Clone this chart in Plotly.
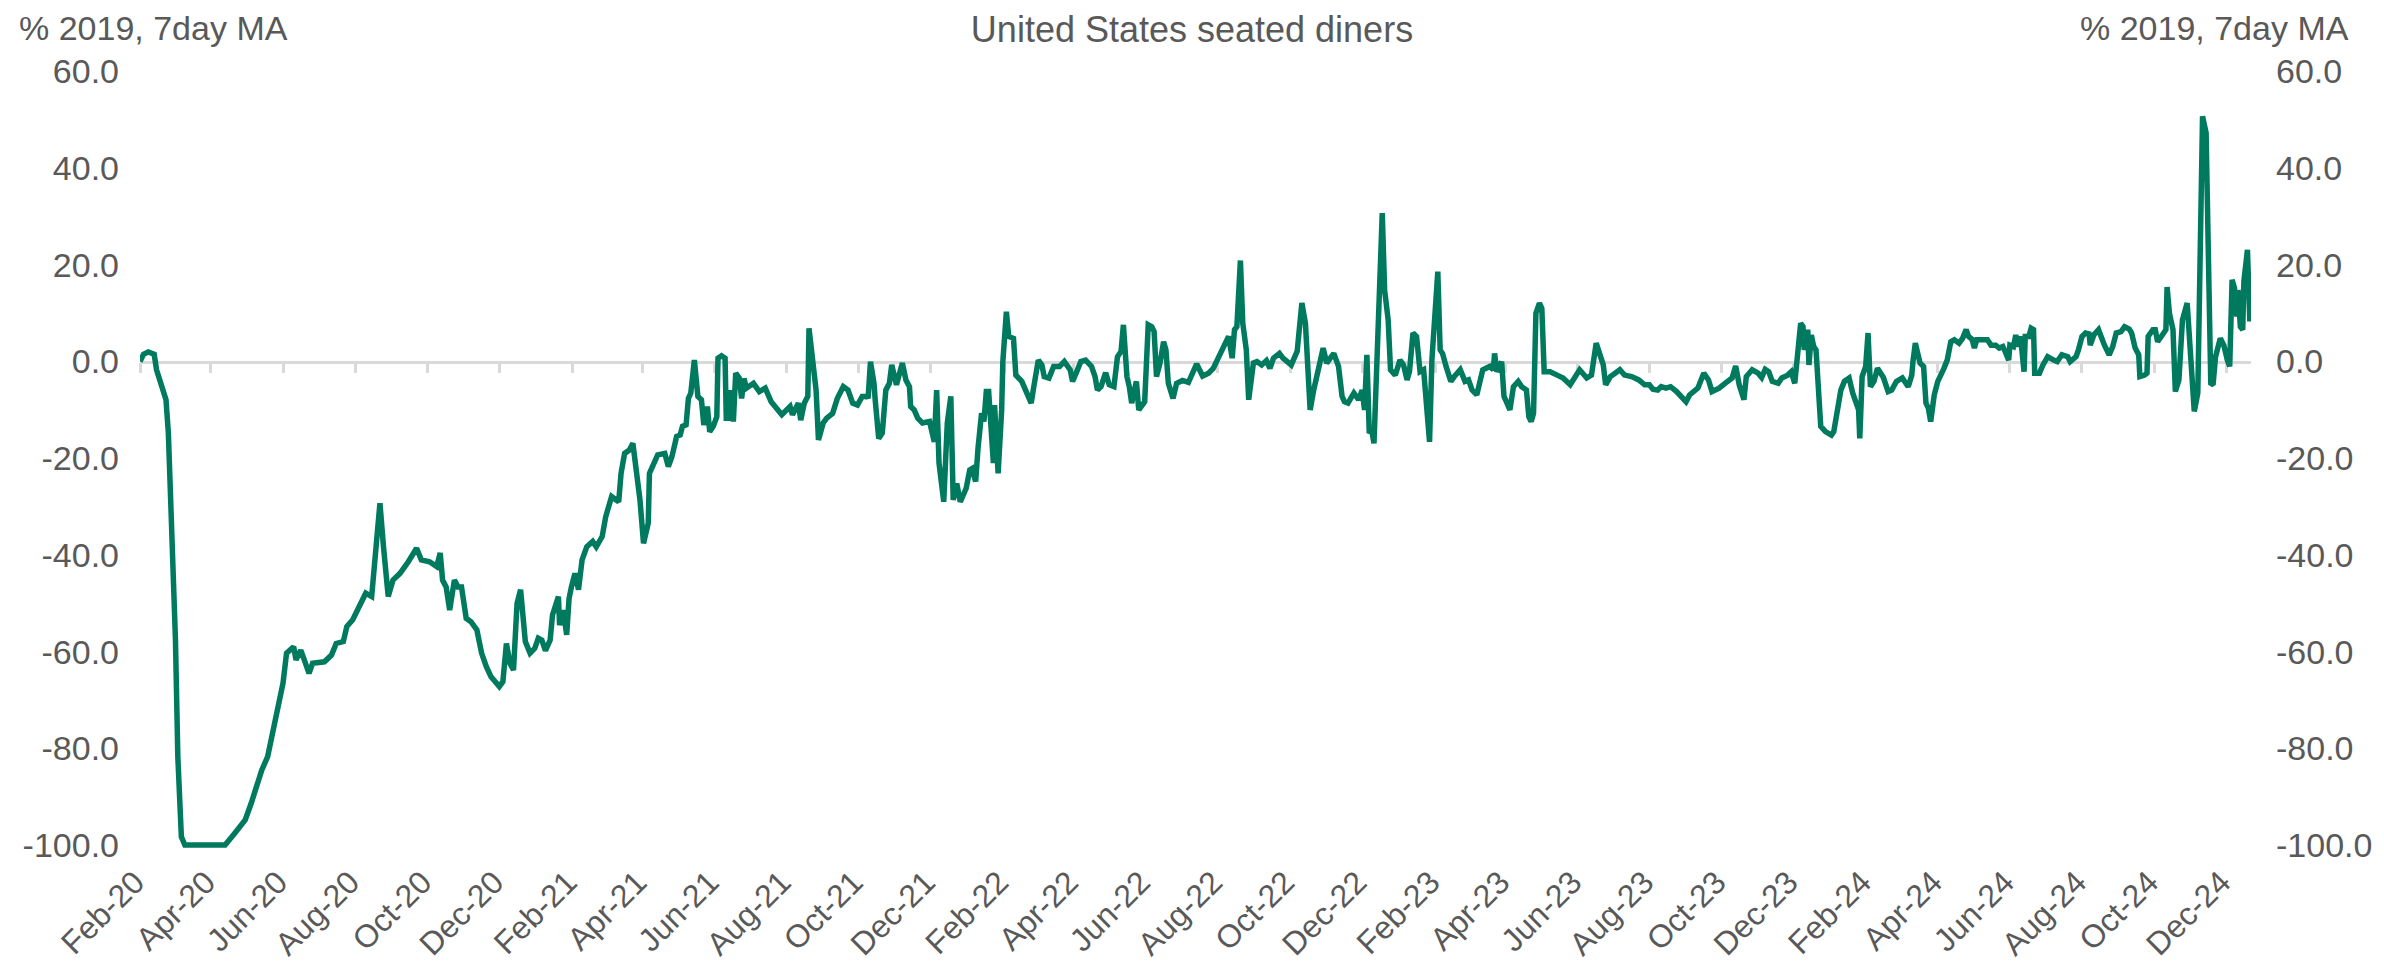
import datetime as dt
import plotly.graph_objects as go

# ---------------- data ----------------
start_date = "2020-02-18"
plot_span_days = 1786

day_offsets = [
    0, 3, 7, 10, 12, 14, 18, 22, 24, 27, 30, 32, 35, 38, 72, 80, 89, 94, 103, 108,
    114, 117, 121, 124, 130, 132, 136, 139, 143, 146, 156, 162, 166, 172, 175, 180, 187, 191, 196, 199,
    203, 206, 210, 214, 220, 227, 234, 238, 245, 251, 254, 256, 259, 262, 266, 269, 272, 276, 280, 285,
    289, 293, 297, 304, 307, 310, 313, 316, 319, 322, 326, 330, 334, 337, 340, 343, 347, 349, 354, 355,
    358, 361, 363, 365, 368, 371, 374, 378, 383, 386, 391, 394, 399, 405, 407, 410, 414, 417, 420, 423,
    426, 430, 431, 435, 438, 444, 447, 450, 454, 457, 459, 462, 464, 466, 469, 472, 475, 477, 480, 482,
    485, 488, 489, 492, 495, 496, 499, 500, 502, 504, 507, 509, 511, 513, 519, 524, 529, 534, 538, 543,
    550, 552, 557, 559, 562, 565, 566, 570, 572, 574, 578, 581, 586, 590, 595, 599, 603, 607, 611, 615,
    616, 618, 621, 622, 625, 628, 631, 634, 636, 640, 645, 648, 651, 652, 655, 658, 662, 668, 671, 672,
    674, 676, 680, 683, 686, 688, 691, 694, 699, 702, 704, 707, 709, 712, 714, 716, 718, 720, 722, 723,
    726, 729, 730, 733, 735, 739, 741, 746, 750, 754, 756, 760, 763, 765, 769, 773, 778, 782, 787, 789,
    792, 796, 800, 805, 808, 810, 813, 817, 820, 824, 827, 830, 832, 835, 837, 839, 843, 845, 850, 853,
    856, 858, 860, 863, 866, 868, 870, 874, 877, 882, 887, 890, 894, 899, 904, 908, 914, 917, 921, 924,
    926, 928, 931, 933, 936, 938, 942, 945, 949, 953, 956, 959, 964, 967, 974, 979, 983, 986, 990, 993,
    997, 1001, 1004, 1007, 1010, 1014, 1017, 1019, 1022, 1027, 1031, 1034, 1036, 1038, 1040, 1042, 1044, 1051, 1053, 1056,
    1058, 1062, 1066, 1069, 1072, 1074, 1077, 1080, 1083, 1086, 1088, 1091, 1093, 1095, 1098, 1100, 1102, 1105, 1109, 1112,
    1117, 1121, 1124, 1127, 1131, 1134, 1136, 1142, 1145, 1146, 1148, 1152, 1154, 1156, 1159, 1162, 1166, 1169, 1173, 1175,
    1177, 1179, 1181, 1184, 1186, 1188, 1193, 1199, 1204, 1210, 1214, 1218, 1224, 1228, 1232, 1235, 1238, 1240, 1244, 1248,
    1252, 1256, 1262, 1268, 1273, 1277, 1280, 1284, 1287, 1291, 1295, 1300, 1304, 1308, 1311, 1315, 1318, 1323, 1327, 1330,
    1336, 1341, 1347, 1350, 1353, 1357, 1359, 1364, 1369, 1372, 1375, 1378, 1381, 1386, 1389, 1394, 1397, 1400, 1403, 1405,
    1407, 1408, 1411, 1412, 1414, 1416, 1418, 1420, 1422, 1426, 1431, 1433, 1436, 1439, 1442, 1446, 1449, 1452, 1454, 1455,
    1457, 1460, 1462, 1464, 1467, 1470, 1475, 1479, 1482, 1486, 1491, 1496, 1499, 1500, 1502, 1506, 1509, 1511, 1513, 1515,
    1518, 1521, 1524, 1526, 1529, 1532, 1535, 1539, 1542, 1545, 1547, 1550, 1552, 1554, 1560, 1563, 1566, 1570, 1573, 1576,
    1578, 1581, 1582, 1585, 1587, 1589, 1591, 1594, 1595, 1598, 1600, 1602, 1603, 1607, 1610, 1614, 1619, 1622, 1626, 1631,
    1633, 1638, 1640, 1643, 1646, 1649, 1650, 1653, 1657, 1660, 1662, 1666, 1669, 1672, 1676, 1679, 1683, 1685, 1688, 1691,
    1692, 1696, 1698, 1699, 1703, 1705, 1707, 1711, 1714, 1715, 1717, 1720, 1722, 1725, 1728, 1732, 1735, 1738, 1741, 1745,
    1748, 1750, 1752, 1754, 1756, 1760, 1763, 1766, 1768, 1770, 1772, 1774, 1775, 1777, 1779, 1780, 1783, 1785,
]

values = [
    0.0, 1.5, 2.0, 1.8, 1.5, -1.7, -5.2, -7.9, -14.8, -36.9, -57.6, -81.7, -98.3, -100.0, -100.0, -97.6, -94.8, -91.4, -84.5, -81.7,
    -74.8, -71.0, -66.5, -60.3, -59.0, -61.7, -59.7, -61.7, -64.5, -62.4, -62.1, -60.7, -58.3, -57.9, -54.8, -53.4, -49.7, -47.9, -48.6, -41.0,
    -29.3, -38.3, -48.6, -45.2, -43.8, -41.4, -38.6, -41.0, -41.4, -42.4, -39.6, -45.2, -46.6, -51.4, -45.2, -46.6, -46.6, -53.1, -53.8, -55.5,
    -60.3, -63.1, -65.2, -67.2, -66.2, -58.3, -62.4, -63.8, -50.0, -47.2, -57.9, -60.3, -59.3, -57.2, -57.6, -59.8, -57.6, -52.4, -48.6, -54.5,
    -51.4, -56.5, -49.0, -46.6, -43.8, -47.2, -41.0, -38.3, -37.2, -38.3, -36.2, -32.1, -27.9, -29.0, -23.1, -19.0, -18.3, -16.9, -22.4, -28.6,
    -37.6, -33.4, -23.1, -21.0, -19.3, -19.0, -21.7, -19.7, -15.5, -15.2, -13.4, -13.1, -7.6, -6.5, 0.3, -7.2, -7.9, -13.1, -9.3, -14.5,
    -13.4, -11.4, 0.7, 1.2, 0.7, -11.7, -11.7, -5.9, -12.4, -2.4, -3.4, -7.6, -3.5, -5.5, -4.5, -6.2, -5.5, -8.3, -9.6, -11.0,
    -9.3, -11.0, -8.6, -12.1, -8.6, -7.2, 6.9, -3.1, -5.9, -16.2, -12.7, -11.7, -10.7, -7.6, -5.2, -5.9, -8.6, -9.0, -7.2, -7.2,
    -7.6, 0.0, -4.5, -7.9, -15.9, -14.8, -5.9, -4.5, -0.7, -4.8, -0.3, -3.8, -5.2, -9.3, -10.0, -11.7, -12.7, -12.4, -16.2, -16.6,
    -5.9, -21.0, -29.0, -12.7, -7.2, -28.6, -25.2, -29.0, -26.2, -22.4, -22.1, -24.8, -17.9, -10.7, -12.4, -6.2, -6.2, -12.4, -21.0, -9.0,
    -23.1, -10.0, 0.0, 10.3, 5.2, 4.8, -2.8, -4.1, -6.2, -8.6, -5.5, 0.3, -0.7, -3.1, -3.4, -1.0, -1.0, 0.0, -1.7, -4.1,
    -2.4, 0.0, 0.3, -1.0, -3.1, -5.9, -5.2, -2.3, -4.8, -5.2, 1.0, 2.1, 7.6, -3.1, -5.2, -8.6, -4.1, -10.0, -8.3, 7.6,
    7.2, 6.2, -3.1, -0.3, 4.1, 2.4, -4.5, -7.6, -4.5, -3.9, -4.3, -2.8, -0.5, -3.0, -2.4, -1.4, 1.7, 2.8, 5.2, 0.7,
    6.6, 7.2, 20.9, 7.9, 2.4, -7.9, -0.3, 0.0, -0.7, 0.2, -1.4, 0.7, 1.7, 0.7, -0.7, 2.1, 12.1, 7.9, -10.0, -5.9,
    -1.4, 2.8, -0.3, 0.7, 1.7, -1.0, -7.2, -8.3, -8.6, -6.5, -7.9, -5.9, -10.0, 1.4, -14.8, -14.1, -16.9, 30.7, 14.8, 8.6,
    -1.7, -2.8, 0.3, -0.7, -3.8, -2.1, 5.9, 5.2, -2.1, -1.7, -7.2, -16.6, 0.3, 6.6, 18.6, 2.4, 1.7, -1.0, -4.1, -3.1,
    -1.7, -4.1, -3.8, -5.9, -6.9, -3.8, -1.7, -1.0, -1.7, 1.7, -2.1, 0.0, -7.2, -8.3, -10.0, -5.2, -4.1, -5.2, -5.9, -11.4,
    -12.4, -10.7, 10.0, 12.1, 11.0, -2.1, -2.1, -2.8, -3.4, -4.8, -3.4, -1.7, -3.4, -2.8, 3.8, 1.7, -0.7, -4.8, -3.1, -2.4,
    -1.7, -2.8, -3.1, -3.8, -4.8, -4.8, -5.7, -5.9, -5.2, -5.5, -5.2, -6.2, -7.2, -8.3, -6.9, -6.2, -5.5, -2.4, -3.8, -6.2,
    -5.5, -4.5, -3.4, -0.9, -4.8, -7.9, -3.1, -1.7, -2.4, -3.3, -1.6, -2.1, -4.1, -4.5, -3.4, -2.8, -2.1, -4.5, 1.7, 7.9,
    7.2, 2.4, 6.6, -0.7, 5.5, 3.1, 2.4, -7.2, -13.4, -14.5, -15.2, -14.5, -9.3, -5.9, -4.1, -3.4, -6.5, -8.3, -10.0, -15.9,
    -3.1, -1.0, 5.9, -5.2, -4.1, -1.4, -3.3, -6.2, -5.9, -4.1, -3.4, -5.2, -2.8, 0.0, 3.8, -0.3, -1.0, -8.6, -9.6, -12.4,
    -6.9, -4.1, -2.8, -1.5, 0.3, 4.1, 4.5, 3.8, 4.8, 6.6, 5.2, 4.6, 2.8, 4.5, 4.5, 4.5, 3.4, 3.4, 2.8, 3.1,
    2.1, 0.3, 3.4, 3.1, 5.5, 3.1, 5.2, -2.1, 5.2, 5.2, 6.9, 6.6, -2.4, -2.4, -0.7, 1.0, 0.3, 0.0, 1.4, 1.0,
    0.0, 1.0, 2.4, 5.2, 5.9, 5.7, 3.4, 5.5, 6.6, 4.5, 3.4, 1.4, 3.1, 5.9, 6.2, 7.2, 6.7, 5.9, 2.8, 1.4,
    -3.1, -2.8, -2.4, 5.2, 6.6, 6.6, 4.1, 5.5, 6.6, 15.4, 10.0, 6.6, -6.2, -3.8, 8.6, 12.1, 0.3, -10.3, -6.5, 50.7,
    47.3, 26.6, -4.8, -4.5, 1.0, 4.8, 3.4, 0.3, -1.0, 16.9, 15.2, 9.3, 14.8, 7.2, 6.6, 16.6, 23.1, 8.3,
]

y_tick_vals = [-100, -80, -60, -40, -20, 0, 20, 40, 60]
y_tick_text = ["-100.0", "-80.0", "-60.0", "-40.0", "-20.0", "0.0", "20.0", "40.0", "60.0"]
title_text = "United States seated diners"
axis_label = "% 2019, 7day MA"

# ---------------- build ----------------
base = dt.date.fromisoformat(start_date)
dates = [base + dt.timedelta(days=d) for d in day_offsets]
x_range = [base.isoformat(), (base + dt.timedelta(days=plot_span_days)).isoformat()]

Y_MIN, Y_MAX = -100.6, 60.3
zero_pos = (0 - Y_MIN) / (Y_MAX - Y_MIN)

TEXT = "#595959"
LINE = "#007A5E"
AXIS = "#D9D9D9"
FONT = "Liberation Sans, Arial, sans-serif"

fig = go.Figure()
fig.add_trace(go.Scatter(
    x=dates, y=values, mode="lines",
    line=dict(color=LINE, width=5.5),
    showlegend=False, hoverinfo="x+y",
))
# invisible helper trace so the overlay axes (zero line + right labels) exist
fig.add_trace(go.Scatter(
    x=[dates[0]], y=[values[0]], mode="lines", xaxis="x2", yaxis="y2",
    line=dict(color="rgba(0,0,0,0)"), showlegend=False, hoverinfo="skip",
))

fig.update_layout(
    width=2384, height=970,
    margin=dict(l=140, r=133, t=70, b=122, autoexpand=False),
    paper_bgcolor="white", plot_bgcolor="white",
    font=dict(family=FONT, color=TEXT, size=34),
    showlegend=False,
    title=dict(text=title_text, x=0.5, xref="container", xanchor="center",
               y=1 - 29 / 970, yref="container", yanchor="middle",
               font=dict(size=36, color=TEXT, family=FONT)),
    xaxis=dict(type="date", range=x_range, tick0=base.isoformat(), dtick="M2",
               tickformat="%b-%y", tickangle=-45, showgrid=False, showline=False,
               ticks="", zeroline=False, ticklabelstandoff=8, ticklabelshift=-5,
               automargin=False, tickfont=dict(size=32, color=TEXT)),
    xaxis2=dict(type="date", overlaying="x", anchor="free", position=zero_pos,
                range=x_range, tick0=base.isoformat(), dtick="M2",
                ticks="outside", ticklen=10, tickwidth=2.5, tickcolor=AXIS,
                showline=True, linecolor=AXIS, linewidth=2.5,
                showticklabels=False, showgrid=False, zeroline=False,
                automargin=False, layer="below traces"),
    yaxis=dict(range=[Y_MIN, Y_MAX], tickvals=y_tick_vals, ticktext=y_tick_text,
               showgrid=False, zeroline=False, showline=False, ticks="",
               ticklabelstandoff=20, automargin=False,
               tickfont=dict(size=34, color=TEXT)),
    yaxis2=dict(range=[Y_MIN, Y_MAX], overlaying="y", side="right", anchor="x",
                tickvals=y_tick_vals, ticktext=y_tick_text,
                showgrid=False, zeroline=False, showline=False, ticks="",
                ticklabelstandoff=24, automargin=False,
                tickfont=dict(size=34, color=TEXT)),
    annotations=[
        dict(text=axis_label, xref="paper", yref="paper", x=0, y=1,
             xanchor="left", yanchor="middle", xshift=-123, yshift=42,
             showarrow=False, font=dict(size=34, color=TEXT, family=FONT)),
        dict(text=axis_label, xref="paper", yref="paper", x=1, y=1,
             xanchor="right", yanchor="middle", xshift=100, yshift=42,
             showarrow=False, font=dict(size=34, color=TEXT, family=FONT)),
    ],
)

assert len(day_offsets) == len(values)
fig.write_html(
    "out.html",
    config={"displayModeBar": False},
    post_script="document.body.style.margin='0';document.body.style.overflow='hidden';",
)
